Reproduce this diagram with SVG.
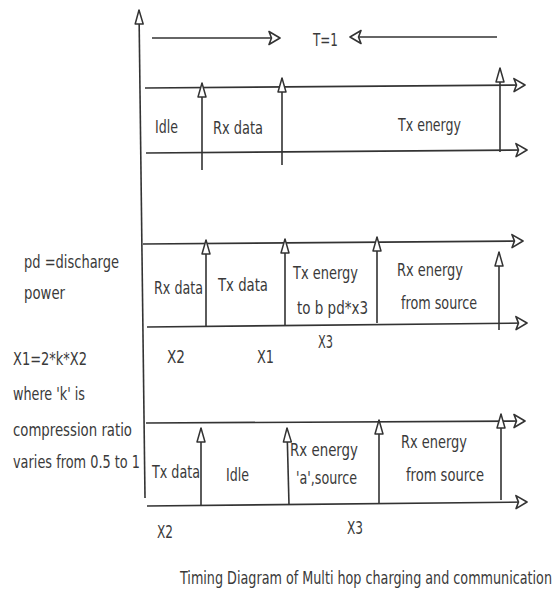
<svg xmlns="http://www.w3.org/2000/svg" width="558" height="599" viewBox="0 0 558 599">
<style>
text{font-family:"DejaVu Sans Condensed","DejaVu Sans",sans-serif;font-stretch:condensed;font-size:14px;fill:#3a3a3a}
.ln{stroke:#333;stroke-width:1.6;fill:none}
.h{marker-end:url(#ah)}
.v{marker-end:url(#av)}
</style>
<defs>
<marker id="ah" markerUnits="userSpaceOnUse" viewBox="0 0 14 16" refX="13" refY="8" markerWidth="14" markerHeight="16" orient="auto">
<path d="M2,1.5 L13,8 L2,14.5 L4.5,8 Z" fill="#fff" stroke="#333" stroke-width="1.6" stroke-linejoin="round"/>
</marker>
<marker id="av" markerUnits="userSpaceOnUse" viewBox="0 0 16 10" refX="15" refY="5" markerWidth="16" markerHeight="10" orient="auto">
<path d="M1,1 L15,5 L1,9 Z" fill="#fff" stroke="#333" stroke-width="1.5" stroke-linejoin="round"/>
</marker>
</defs>
<g id="connectors">
<line class="ln v" x1="145" y1="498" x2="139" y2="10"/>
<line class="ln h" x1="152" y1="38" x2="280" y2="38"/>
<line class="ln h" x1="497" y1="37" x2="350" y2="37"/>
<line class="ln h" x1="145" y1="88" x2="525" y2="85"/>
<line class="ln h" x1="146" y1="153" x2="527" y2="150"/>
<line class="ln v" x1="202" y1="170" x2="202" y2="83"/>
<line class="ln v" x1="282" y1="165" x2="282" y2="78"/>
<line class="ln v" x1="500" y1="152" x2="500" y2="68"/>
<line class="ln h" x1="143" y1="244" x2="523" y2="241"/>
<line class="ln h" x1="147" y1="327" x2="527" y2="323"/>
<line class="ln v" x1="206" y1="327" x2="206" y2="240"/>
<line class="ln v" x1="285" y1="326" x2="285" y2="239"/>
<line class="ln v" x1="377" y1="323" x2="377" y2="237"/>
<line class="ln v" x1="499" y1="330" x2="499" y2="252"/>
<line class="ln h" x1="146" y1="423" x2="525" y2="421"/>
<line class="ln h" x1="147" y1="506" x2="527" y2="502"/>
<line class="ln v" x1="201" y1="506" x2="201" y2="428"/>
<line class="ln v" x1="289" y1="505" x2="287" y2="428"/>
<line class="ln v" x1="379" y1="503" x2="379" y2="420"/>
<line class="ln v" x1="501" y1="500" x2="501" y2="414"/>
</g>
<g id="period"><text transform="translate(313,46) scale(1,1.28)" textLength="25" lengthAdjust="spacingAndGlyphs">T=1</text></g>
<g id="row1">
<text transform="translate(155,133) scale(1,1.28)" textLength="23" lengthAdjust="spacingAndGlyphs">Idle</text>
<text transform="translate(213,134) scale(1,1.28)" textLength="50" lengthAdjust="spacingAndGlyphs">Rx data</text>
<text transform="translate(398,131) scale(1,1.28)" textLength="63" lengthAdjust="spacingAndGlyphs">Tx energy</text>
</g>
<g id="notes">
<text transform="translate(24,268) scale(1,1.28)" textLength="95" lengthAdjust="spacingAndGlyphs">pd =discharge</text>
<text transform="translate(24,299) scale(1,1.28)" textLength="41" lengthAdjust="spacingAndGlyphs">power</text>
<text transform="translate(13,365) scale(1,1.28)" textLength="74" lengthAdjust="spacingAndGlyphs">X1=2*k*X2</text>
<text transform="translate(13,400) scale(1,1.28)" textLength="72" lengthAdjust="spacingAndGlyphs">where 'k' is</text>
<text transform="translate(13,436) scale(1,1.28)" textLength="119" lengthAdjust="spacingAndGlyphs">compression ratio</text>
<text transform="translate(13,468) scale(1,1.28)" textLength="127" lengthAdjust="spacingAndGlyphs">varies from 0.5 to 1</text>
</g>
<g id="row2">
<text transform="translate(154,294) scale(1,1.28)" textLength="49" lengthAdjust="spacingAndGlyphs">Rx data</text>
<text transform="translate(218,291) scale(1,1.28)" textLength="50" lengthAdjust="spacingAndGlyphs">Tx data</text>
<text transform="translate(293,279) scale(1,1.28)" textLength="65" lengthAdjust="spacingAndGlyphs">Tx energy</text>
<text transform="translate(297,314) scale(1,1.28)" textLength="71" lengthAdjust="spacingAndGlyphs">to b pd*x3</text>
<text transform="translate(397,276) scale(1,1.28)" textLength="66" lengthAdjust="spacingAndGlyphs">Rx energy</text>
<text transform="translate(401,309) scale(1,1.28)" textLength="76" lengthAdjust="spacingAndGlyphs">from source</text>
<text transform="translate(318,348) scale(1,1.28)" textLength="15" lengthAdjust="spacingAndGlyphs">X3</text>
<text transform="translate(167,363) scale(1,1.28)" textLength="18" lengthAdjust="spacingAndGlyphs">X2</text>
<text transform="translate(257,363) scale(1,1.28)" textLength="17" lengthAdjust="spacingAndGlyphs">X1</text>
</g>
<g id="row3">
<text transform="translate(152,478) scale(1,1.28)" textLength="48" lengthAdjust="spacingAndGlyphs">Tx data</text>
<text transform="translate(226,481) scale(1,1.28)" textLength="23" lengthAdjust="spacingAndGlyphs">Idle</text>
<text transform="translate(290,456) scale(1,1.28)" textLength="68" lengthAdjust="spacingAndGlyphs">Rx energy</text>
<text transform="translate(296,484) scale(1,1.28)" textLength="61" lengthAdjust="spacingAndGlyphs">'a',source</text>
<text transform="translate(401,448) scale(1,1.28)" textLength="66" lengthAdjust="spacingAndGlyphs">Rx energy</text>
<text transform="translate(406,481) scale(1,1.28)" textLength="78" lengthAdjust="spacingAndGlyphs">from source</text>
<text transform="translate(157,538) scale(1,1.28)" textLength="16" lengthAdjust="spacingAndGlyphs">X2</text>
<text transform="translate(347,534) scale(1,1.28)" textLength="16" lengthAdjust="spacingAndGlyphs">X3</text>
</g>
<g id="caption"><text transform="translate(180,584) scale(1,1.28)" textLength="372" lengthAdjust="spacingAndGlyphs">Timing Diagram of Multi hop charging and communication</text></g>
</svg>
